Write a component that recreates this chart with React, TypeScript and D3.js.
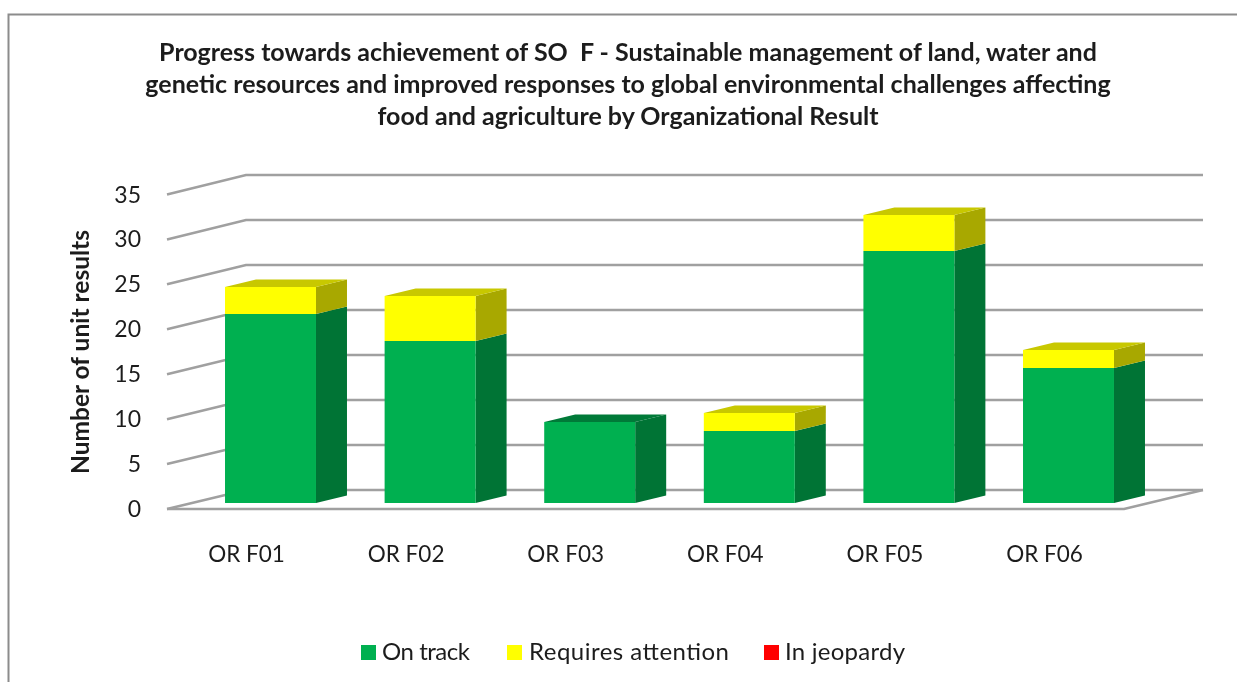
import React, { useEffect, useRef } from 'react';
import * as d3 from 'd3';

const categories = ['OR F01', 'OR F02', 'OR F03', 'OR F04', 'OR F05', 'OR F06'];
const onTrack = [21, 18, 9, 8, 28, 15];
const requiresAttention = [3, 5, 0, 2, 4, 2];
const inJeopardy = [0, 0, 0, 0, 0, 0];
const yTicks = [0, 5, 10, 15, 20, 25, 30, 35];
const titleLines = [
  'Progress towards achievement of SO  F - Sustainable management of land, water and',
  'genetic resources and improved responses to global environmental challenges affecting',
  'food and agriculture by Organizational Result',
];
const legendItems = ['On track', 'Requires attention', 'In jeopardy'];

const FONT = 'Lato, Carlito, "Open Sans", sans-serif';
const GRID = '#a0a0a0';
const TEXT = '#1c1c1c';

export default function App() {
  const ref = useRef<SVGSVGElement>(null);

  useEffect(() => {
    const svg = d3.select(ref.current);
    svg.selectAll('*').remove();

    // the three planes of the fake 3d box
    const yFront = d3.scaleLinear().domain([0, 35]).range([509, 194.5]);
    const yBack = d3.scaleLinear().domain([0, 35]).range([490, 175]);
    const yBar = d3.scaleLinear().domain([0, 35]).range([503, 188]);
    const x = d3.scaleBand().domain(categories).range([190.7, 1148.3]).paddingInner(0.43).paddingOuter(0.215);
    const depthX = 31;
    const depthY = 7.5;

    // frame
    svg.append('path')
      .attr('d', 'M8.5,682V14.5H1237')
      .attr('fill', 'none')
      .attr('stroke', '#8c8c8c')
      .attr('stroke-width', 2);

    // title
    svg.append('g').selectAll('text').data(titleLines).join('text')
      .attr('x', 628)
      .attr('y', (d, i) => 61 + i * 32)
      .attr('text-anchor', 'middle')
      .attr('font-family', FONT)
      .attr('font-weight', 700)
      .attr('font-size', 25)
      .attr('fill', TEXT)
      .style('white-space', 'pre')
      .text(d => d);

    // gridlines
    const grid = svg.append('g').attr('fill', 'none').attr('stroke', GRID).attr('stroke-width', 2.6);
    yTicks.forEach(t => {
      grid.append('path').attr('d', d3.line()([
        [167, yFront(t)],
        [246, yBack(t)],
        [1203, yBack(t)],
      ]));
    });
    grid.append('path').attr('d', d3.line()([
      [167, yFront(0)],
      [1124, yFront(0)],
      [1203, yBack(0)],
    ]));

    // tick labels
    svg.append('g').selectAll('text').data(yTicks).join('text')
      .attr('x', 141)
      .attr('y', d => yFront(d))
      .attr('dy', '0.35em')
      .attr('text-anchor', 'end')
      .attr('font-family', FONT)
      .attr('font-size', 23)
      .attr('fill', TEXT)
      .text(d => d);

    svg.append('text')
      .attr('transform', 'translate(89,352) rotate(-90)')
      .attr('text-anchor', 'middle')
      .attr('font-family', FONT)
      .attr('font-weight', 700)
      .attr('font-size', 24.5)
      .attr('fill', TEXT)
      .text('Number of unit results');

    svg.append('g').selectAll('text').data(categories).join('text')
      .attr('x', d => x(d)! + x.bandwidth() / 2 - 24)
      .attr('y', 562)
      .attr('text-anchor', 'middle')
      .attr('font-family', FONT)
      .attr('font-size', 22.5)
      .attr('fill', TEXT)
      .text(d => d);

    // stacked bars
    const stack = categories.map((c, i) => ({
      c,
      parts: [
        { from: 0, to: onTrack[i], front: '#00b050', side: '#007435', top: '#007a38' },
        { from: onTrack[i], to: onTrack[i] + requiresAttention[i], front: '#ffff00', side: '#a8a800', top: '#c8c800' },
        { from: onTrack[i] + requiresAttention[i], to: onTrack[i] + requiresAttention[i] + inJeopardy[i], front: '#ff0000', side: '#a80000', top: '#c80000' },
      ].filter(p => p.to > p.from),
    }));

    stack.forEach(s => {
      const x0 = x(s.c)!;
      const x1 = x0 + x.bandwidth();
      s.parts.forEach((p, j) => {
        const yb = yBar(p.from);
        const yt = yBar(p.to);
        svg.append('path')
          .attr('fill', p.side)
          .attr('d', d3.line()([[x1, yb], [x1 + depthX, yb - depthY], [x1 + depthX, yt - depthY], [x1, yt]]) + 'Z');
        svg.append('rect')
          .attr('x', x0).attr('y', yt)
          .attr('width', x.bandwidth()).attr('height', yb - yt)
          .attr('fill', p.front);
        if (j === s.parts.length - 1) {
          svg.append('path')
            .attr('fill', p.top)
            .attr('d', d3.line()([[x0, yt], [x0 + depthX, yt - depthY], [x1 + depthX, yt - depthY], [x1, yt]]) + 'Z');
        }
      });
    });

    // legend
    const legendColors = ['#00b050', '#ffff00', '#ff0000'];
    const legendSwatch = [361, 507, 764];
    const legendLabel = [382, 529, 785];
    const legendWidth = [88, 200, 120];
    const legend = svg.append('g');
    legendItems.forEach((t, i) => {
      legend.append('rect')
        .attr('x', legendSwatch[i]).attr('y', 645)
        .attr('width', 15).attr('height', 15)
        .attr('fill', legendColors[i]);
      legend.append('text')
        .attr('x', legendLabel[i]).attr('y', 660)
        .attr('font-family', FONT)
        .attr('font-size', 24)
        .attr('textLength', legendWidth[i])
        .attr('fill', TEXT)
        .text(t);
    });
  }, []);

  return (
    <svg
      ref={ref}
      width={1237}
      height={682}
      style={{ position: 'absolute', left: 0, top: 0, background: '#fff', filter: 'blur(0.4px)' }}
    />
  );
}
